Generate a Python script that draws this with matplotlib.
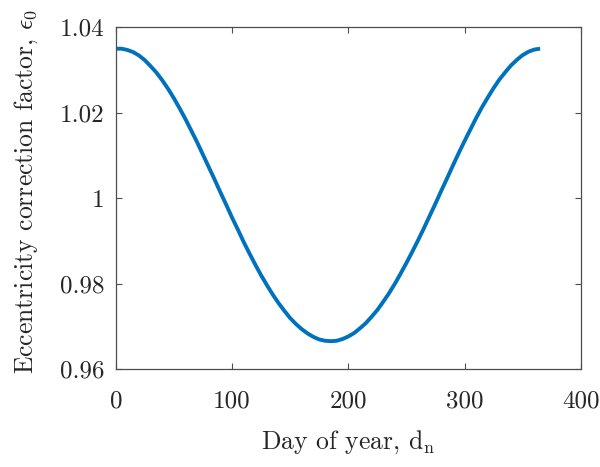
import matplotlib
matplotlib.use("Agg")
import matplotlib.pyplot as plt

days = [0, 5, 10, 15, 20, 25, 30, 35, 40, 45, 50, 55, 60, 65, 70, 75, 80, 85, 90, 95,
        100, 105, 110, 115, 120, 125, 130, 135, 140, 145, 150, 155, 160, 165, 170, 175,
        180, 185, 190, 195, 200, 205, 210, 215, 220, 225, 230, 235, 240, 245, 250, 255,
        260, 265, 270, 275, 280, 285, 290, 295, 300, 305, 310, 315, 320, 325, 330, 335,
        340, 345, 350, 355, 360, 365]
e0 = [1.0350, 1.0350, 1.0347, 1.0342, 1.0334, 1.0323, 1.0309, 1.0294, 1.0276, 1.0256,
      1.0234, 1.0210, 1.0185, 1.0158, 1.0131, 1.0102, 1.0073, 1.0044, 1.0014, 0.9985,
      0.9955, 0.9927, 0.9898, 0.9871, 0.9845, 0.9820, 0.9797, 0.9775, 0.9755, 0.9737,
      0.9720, 0.9706, 0.9694, 0.9684, 0.9676, 0.9670, 0.9667, 0.9666, 0.9667, 0.9671,
      0.9677, 0.9685, 0.9696, 0.9708, 0.9723, 0.9739, 0.9758, 0.9778, 0.9800, 0.9824,
      0.9849, 0.9875, 0.9902, 0.9930, 0.9959, 0.9988, 1.0018, 1.0047, 1.0077, 1.0106,
      1.0134, 1.0161, 1.0188, 1.0213, 1.0236, 1.0258, 1.0278, 1.0295, 1.0311, 1.0324,
      1.0335, 1.0343, 1.0348, 1.0350]
xticks = [0, 100, 200, 300, 400]
yticks = [0.96, 0.98, 1.00, 1.02, 1.04]
ytick_labels = ["0.96", "0.98", "1", "1.02", "1.04"]

plt.rcParams['font.family'] = 'cmr10'
plt.rcParams['mathtext.fontset'] = 'cm'
plt.rcParams['axes.formatter.use_mathtext'] = True

txt = '#262626'
fig = plt.figure(figsize=(6, 4.67), dpi=100)
ax = fig.add_axes([0.193, 0.209, 0.775, 0.7325])
ax.plot(days, e0, color='#0072BD', lw=2.8, solid_capstyle='butt', solid_joinstyle='round')
ax.set_xlim(0, 400)
ax.set_ylim(0.96, 1.04)
ax.set_xticks(xticks)
ax.set_xticklabels([str(t) for t in xticks])
ax.set_yticks(yticks)
ax.set_yticklabels(ytick_labels)
ax.tick_params(direction='in', length=4, width=0.8, colors='#4d4d4d',
               labelcolor=txt, labelsize=18, top=True, right=True)
ax.tick_params(axis='x', pad=15)
ax.tick_params(axis='y', pad=8)
for s in ax.spines.values():
    s.set_color('#4d4d4d')
    s.set_linewidth(0.9)
ax.set_xlabel(r'Day of year, d$_\mathrm{n}$', fontsize=18.5, color=txt)
ax.xaxis.set_label_coords(0.5, -0.172)
ax.set_ylabel(r'Eccentricity correction factor, $\epsilon_0$', fontsize=18.5, color=txt)
ax.yaxis.set_label_coords(-0.162, 0.52)
fig.savefig('out.png', dpi=100)
